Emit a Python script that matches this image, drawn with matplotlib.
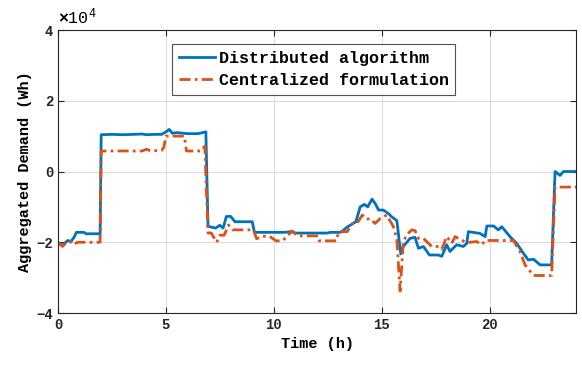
import matplotlib
matplotlib.use('Agg')
import matplotlib.pyplot as plt

# time (h) and aggregated demand (x 1e4 Wh)
t_dist = [0, 0.2, 0.45, 0.6, 0.75, 0.85, 1.2, 1.3, 1.95, 2.0, 2.5, 3.0, 3.5, 3.9, 4.1, 4.5,
          4.8, 5.0, 5.15, 5.3, 5.5, 6.0, 6.5, 6.7, 6.85, 6.95, 7.3, 7.5, 7.65, 7.8, 8.0,
          8.2, 9.0, 9.1, 10.5, 10.8, 11.0, 12.5, 12.6, 13.1, 13.4, 13.8, 14.0, 14.2,
          14.35, 14.55, 14.7, 14.85, 15.07, 15.31, 15.46, 15.7, 15.88, 16.0, 16.31,
          16.54, 16.7, 16.93, 17.21, 17.63, 17.78, 18.01, 18.16, 18.47, 18.78, 18.94,
          19.01, 19.55, 19.79, 19.87, 20.18, 20.4, 20.56, 20.94, 21.25, 21.56, 21.79,
          22.03, 22.34, 22.87, 23.03, 23.26, 23.42, 24.0]
dist = [-2.02, -2.08, -1.95, -1.98, -1.85, -1.72, -1.72, -1.76, -1.76, 1.04, 1.05, 1.04,
        1.05, 1.06, 1.04, 1.05, 1.05, 1.12, 1.19, 1.08, 1.1, 1.07, 1.07, 1.1, 1.12, -1.55,
        -1.6, -1.52, -1.6, -1.27, -1.27, -1.42, -1.42, -1.72, -1.72, -1.7, -1.74, -1.74,
        -1.72, -1.72, -1.57, -1.42, -1.0, -0.93, -1.0, -0.78, -0.91, -1.09, -1.09, -1.19,
        -1.28, -1.39, -2.33, -2.12, -1.89, -1.86, -2.17, -2.12, -2.36, -2.36, -2.4,
        -2.07, -2.26, -2.07, -2.12, -2.03, -1.7, -1.75, -1.84, -1.54, -1.54, -1.65,
        -1.56, -1.84, -2.03, -2.31, -2.5, -2.48, -2.64, -2.64, 0.0, -0.11, 0.0, 0.0]

t_cent = [0, 0.2, 0.4, 0.55, 0.7, 0.9, 1.95, 2.0, 3.9, 4.1, 4.3, 4.8, 4.9, 5.0, 5.85,
          5.95, 6.65, 6.8, 6.95, 7.1, 7.35, 7.5, 7.7, 7.9, 8.1, 9.05, 9.2, 9.45, 9.8,
          10.1, 10.4, 10.85, 11.1, 12.05, 12.1, 12.9, 13.0, 13.4, 13.7, 13.9, 14.1, 14.3,
          14.46, 14.69, 14.92, 15.23, 15.54, 15.7, 15.85, 16.0, 16.16, 16.39, 16.54,
          16.7, 16.93, 17.16, 17.32, 17.63, 17.78, 18.01, 18.24, 18.4, 18.63, 18.94,
          19.4, 19.63, 19.79, 21.1, 21.4, 21.64, 22.03, 22.87, 23.03, 24.0]
cent = [-2.0, -2.12, -2.0, -1.97, -2.07, -2.0, -2.0, 0.58, 0.58, 0.63, 0.58, 0.6, 0.68,
        1.0, 1.0, 0.58, 0.58, 0.72, -1.74, -1.74, -2.0, -1.8, -1.8, -1.51, -1.65, -1.65,
        -1.9, -1.83, -1.83, -1.96, -1.96, -1.68, -1.82, -1.82, -1.96, -1.96, -1.7, -1.7,
        -1.42, -1.42, -1.23, -1.35, -1.33, -1.47, -1.33, -1.23, -1.56, -1.93, -3.38,
        -1.98, -1.79, -1.65, -1.67, -1.89, -1.89, -2.03, -2.12, -2.12, -2.2, -1.84,
        -2.03, -1.84, -1.92, -2.01, -1.98, -2.07, -1.95, -1.95, -2.26, -2.64, -2.94,
        -2.94, -0.44, -0.44]

x_ticks = [0, 5, 10, 15, 20]
y_ticks = [-4, -2, 0, 2, 4]

plt.rcParams['font.family'] = ['Liberation Mono', 'DejaVu Sans']
plt.rcParams['font.weight'] = 'bold'
plt.rcParams['mathtext.fontset'] = 'custom'
plt.rcParams['mathtext.rm'] = 'Liberation Mono'

fig = plt.figure(figsize=(5.82, 3.66), dpi=100)
ax = fig.add_axes([0.0997, 0.1448, 0.89, 0.7732])

ax.plot(t_dist, dist, color='#0072BD', lw=2.0, label='Distributed algorithm')
ax.plot(t_cent, cent, color='#D95319', lw=2.0, linestyle=(0, (4, 1.5, 1, 1.5)),
        label='Centralized formulation')

ax.set_xlim(0, 24)
ax.set_ylim(-4, 4)
ax.set_xticks(x_ticks)
ax.set_yticks(y_ticks)
ax.tick_params(direction='in', top=True, right=True, labelsize=10, colors='#262626',
               length=4, width=0.8)
for s in ax.spines.values():
    s.set_color('#262626')
    s.set_linewidth(0.8)
ax.grid(True, color='#dcdcdc', lw=0.8)
ax.set_axisbelow(True)

ax.set_xlabel('Time (h)', fontsize=11, fontweight='bold', labelpad=4)
ax.set_ylabel('Aggregated Demand (Wh)', fontsize=11, fontweight='bold', labelpad=3)
ax.text(0.0, 1.012, r'$\times\mathregular{10^4}$', transform=ax.transAxes,
        fontsize=12, fontweight='normal', ha='left', va='bottom')

leg = ax.legend(loc='upper left', bbox_to_anchor=(0.22, 0.95), fontsize=12,
                frameon=True, fancybox=False, edgecolor='#262626', handlelength=2.2,
                handletextpad=0.2, borderpad=0.4, labelspacing=0.45, borderaxespad=0)
leg.get_frame().set_linewidth(0.8)

fig.savefig('out.png', dpi=100)
